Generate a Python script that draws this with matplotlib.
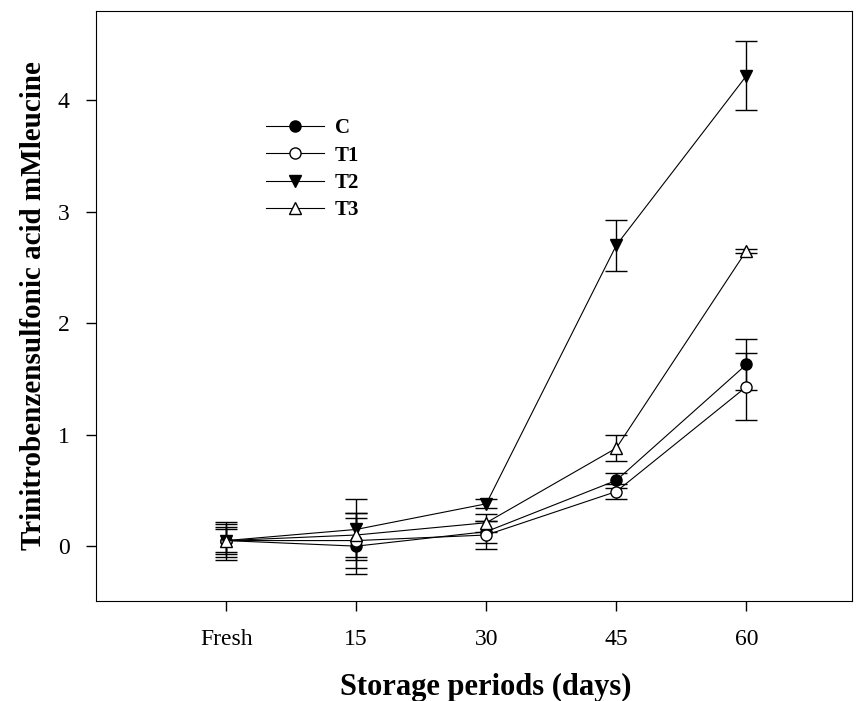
import matplotlib as mpl
mpl.use('Agg')
import matplotlib.pyplot as plt
from matplotlib.lines import Line2D
import numpy as np

# данные
days = [0, 15, 30, 45, 60]
day_labels = ["Fresh", "15", "30", "45", "60"]

c_mean = [0.05, 0.00, 0.13, 0.59, 1.63]
c_err = [0.15, 0.25, 0.10, 0.07, 0.23]
t1_mean = [0.05, 0.05, 0.10, 0.49, 1.43]
t1_err = [0.12, 0.25, 0.13, 0.07, 0.30]
t2_mean = [0.05, 0.15, 0.38, 2.70, 4.22]
t2_err = [0.17, 0.27, 0.04, 0.23, 0.31]
t3_mean = [0.05, 0.10, 0.21, 0.88, 2.65]
t3_err = [0.10, 0.20, 0.08, 0.12, 0.02]

plt.rcParams['font.family'] = ['Liberation Serif', 'DejaVu Serif']

fig = plt.figure(figsize=(8.66, 7.01), dpi=100)
ax = fig.add_axes([0.111, 0.143, 0.873, 0.841])

series = [
    ("C", c_mean, c_err, "o", "black"),
    ("T1", t1_mean, t1_err, "o", "white"),
    ("T2", t2_mean, t2_err, "v", "black"),
    ("T3", t3_mean, t3_err, "^", "white"),
]
handles = []
for name, m, e, mk, fc in series:
    ax.errorbar(days, m, yerr=e, color="black", marker=mk, markerfacecolor=fc,
                markeredgecolor="black", markersize=8, linewidth=0.8,
                elinewidth=1.0, capsize=8, capthick=1.0)
    handles.append(Line2D([], [], color="black", marker=mk, markerfacecolor=fc,
                          markeredgecolor="black", markersize=8, linewidth=0.8, label=name))

ax.set_xlim(-15, 72.2)
ax.set_ylim(-0.49, 4.8)
ax.set_xticks(days)
ax.set_xticklabels(day_labels)
ax.set_yticks([0, 1, 2, 3, 4])
ax.tick_params(direction="out", length=7, width=1, labelsize=17, top=False, right=False)
ax.tick_params(axis="x", pad=13)
ax.tick_params(axis="y", pad=12)

# подпись оси x - текстом на фигуре, чтобы не обрезалась
fig.text(0.561, 0.019, "Storage periods (days)", fontsize=22, fontweight="bold",
         ha="center", va="center")
ax.set_ylabel("Trinitrobenzensulfonic acid mMleucine", fontsize=21, fontweight="bold", labelpad=8)

leg = ax.legend(handles=handles, loc="upper left", bbox_to_anchor=(0.20, 0.85), frameon=False,
                prop={"weight": "bold", "size": 15}, handlelength=2.8,
                labelspacing=0.35, handletextpad=0.5)

fig.savefig("out.png", dpi=100)
